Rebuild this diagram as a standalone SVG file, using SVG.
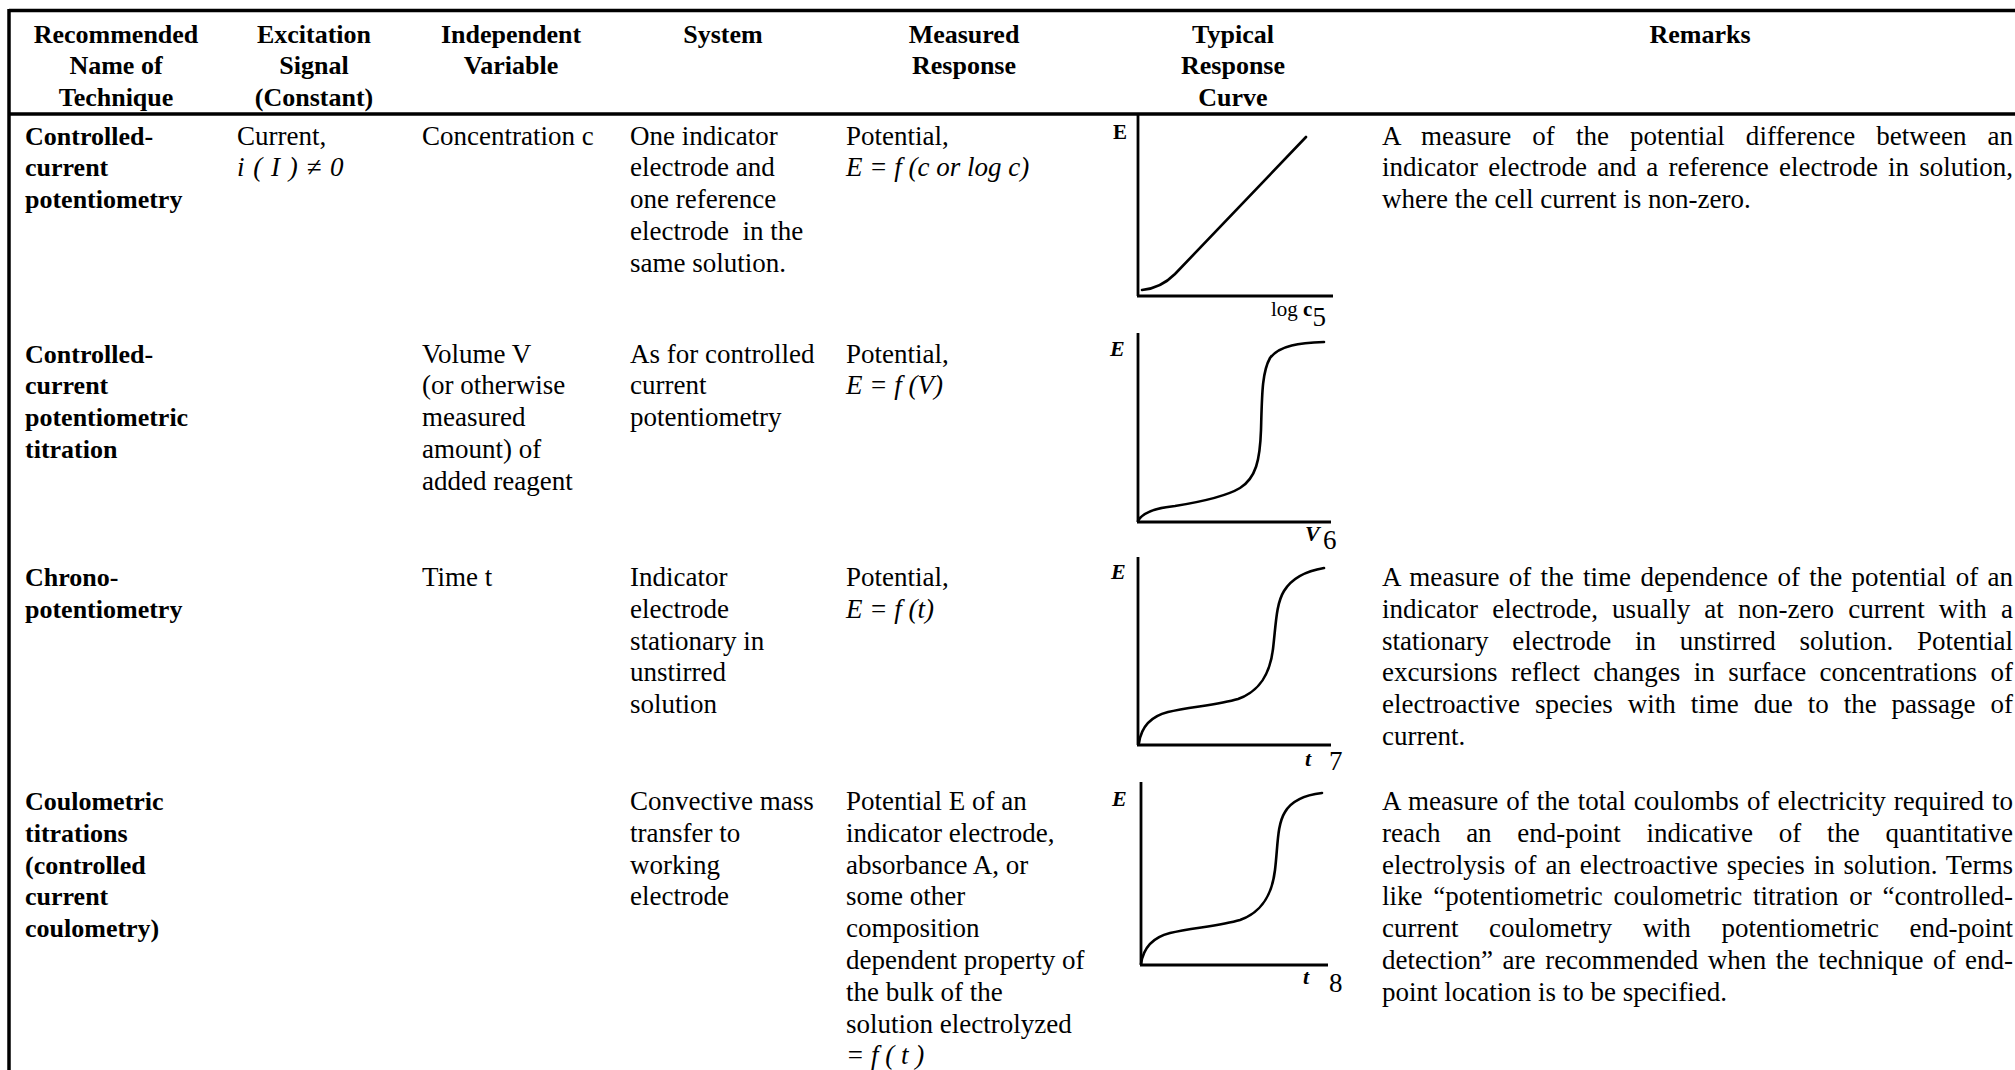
<svg xmlns="http://www.w3.org/2000/svg" width="2015" height="1070" viewBox="0 0 2015 1070">
<style>
text{font-family:"Liberation Serif","Times New Roman",serif;fill:#000}
.h{font-size:26px;font-weight:bold;text-anchor:middle}
.b{font-size:26px;font-weight:bold}
.r{font-size:27px}
.i{font-size:27px;font-style:italic}
.rule{stroke:#000;stroke-width:3.5;fill:none}
.axis{stroke:#000;stroke-width:2.8;fill:none}
.curve{stroke:#000;stroke-width:2.6;fill:none;stroke-linecap:round}
.gl{font-size:21px;font-weight:bold}
.gli{font-size:22px;font-weight:bold;font-style:italic}
.num{font-size:27px}
</style>
<rect x="0" y="0" width="2015" height="1070" fill="#fff"/>
<g id="table-rules">
<line class="rule" x1="9" y1="10.5" x2="2015" y2="10.5"/>
<line class="rule" x1="9" y1="114" x2="2015" y2="114"/>
<line class="rule" x1="9" y1="9" x2="9" y2="1070"/>
</g>
<g id="header">
<text class="h"><tspan x="116" y="42.5">Recommended</tspan><tspan x="116" y="74">Name of</tspan><tspan x="116" y="105.5">Technique</tspan></text>
<text class="h"><tspan x="314" y="42.5">Excitation</tspan><tspan x="314" y="74">Signal</tspan><tspan x="314" y="105.5">(Constant)</tspan></text>
<text class="h"><tspan x="511" y="42.5">Independent</tspan><tspan x="511" y="74">Variable</tspan></text>
<text class="h" x="723" y="42.5">System</text>
<text class="h"><tspan x="964" y="42.5">Measured</tspan><tspan x="964" y="74">Response</tspan></text>
<text class="h"><tspan x="1233" y="42.5">Typical</tspan><tspan x="1233" y="74">Response</tspan><tspan x="1233" y="105.5">Curve</tspan></text>
<text class="h" x="1700" y="42.5">Remarks</text>
</g>
<g id="row1">
<text class="b"><tspan x="25" y="144.5">Controlled-</tspan><tspan x="25" y="176.3">current</tspan><tspan x="25" y="208.1">potentiometry</tspan></text>
<text class="r" x="237" y="144.5">Current,</text>
<text class="i" x="237" y="176.3" word-spacing="2">i ( I ) ≠ 0</text>
<text class="r" x="422" y="144.5">Concentration c</text>
<text class="r" xml:space="preserve"><tspan x="630" y="144.5">One indicator</tspan><tspan x="630" y="176.3">electrode and</tspan><tspan x="630" y="208.1">one reference</tspan><tspan x="630" y="239.9">electrode  in the</tspan><tspan x="630" y="271.7">same solution.</tspan></text>
<text class="r" x="846" y="144.5">Potential,</text>
<text class="i" x="846" y="176.3">E = f (c or log c)</text>
<text class="r" x="1382" y="144.5" word-spacing="14.2" textLength="631" lengthAdjust="spacing">A measure of the potential difference between an</text>
<text class="r" x="1382" y="176.3" word-spacing="3.4" textLength="631" lengthAdjust="spacing">indicator electrode and a reference electrode in solution,</text>
<text class="r" x="1382" y="208.1">where the cell current is non-zero.</text>
<g id="graph1">
<line class="axis" x1="1138" y1="114" x2="1138" y2="296"/>
<line class="axis" x1="1137" y1="296" x2="1333" y2="296"/>
<path class="curve" d="M1142,290 C1153,289 1165,284 1175,274 L1306,137"/>
<text class="gl" x="1113" y="139">E</text>
<text style="font-size:21px" x="1271" y="316">log <tspan font-weight="bold">c</tspan><tspan style="font-size:27px" y="326">5</tspan></text>
</g>
</g>
<g id="row2">
<text class="b"><tspan x="25" y="362.5">Controlled-</tspan><tspan x="25" y="394.3">current</tspan><tspan x="25" y="426.1">potentiometric</tspan><tspan x="25" y="457.9">titration</tspan></text>
<text class="r"><tspan x="422" y="362.5">Volume V</tspan><tspan x="422" y="394.3">(or otherwise</tspan><tspan x="422" y="426.1">measured</tspan><tspan x="422" y="457.9">amount) of</tspan><tspan x="422" y="489.7">added reagent</tspan></text>
<text class="r"><tspan x="630" y="362.5">As for controlled</tspan><tspan x="630" y="394.3">current</tspan><tspan x="630" y="426.1">potentiometry</tspan></text>
<text class="r" x="846" y="362.5">Potential,</text>
<text class="i" x="846" y="394.3">E = f (V)</text>
<g id="graph2">
<line class="axis" x1="1138" y1="333" x2="1138" y2="522"/>
<line class="axis" x1="1137" y1="522" x2="1331" y2="522"/>
<path class="curve" d="M1138,521 C1142,513 1155,508 1175,506 C1200,502 1225,497 1240,488 C1256,478 1260,460 1261,430 C1262,395 1262,372 1270,358 C1280,345 1300,343 1324,342"/>
<text class="gli" x="1110" y="356">E</text>
<text class="gli" x="1305" y="541">V</text>
<text class="num" x="1323" y="549">6</text>
</g>
</g>
<g id="row3">
<text class="b"><tspan x="25" y="586">Chrono-</tspan><tspan x="25" y="617.8">potentiometry</tspan></text>
<text class="r" x="422" y="586">Time t</text>
<text class="r"><tspan x="630" y="586">Indicator</tspan><tspan x="630" y="617.8">electrode</tspan><tspan x="630" y="649.6">stationary in</tspan><tspan x="630" y="681.4">unstirred</tspan><tspan x="630" y="713.2">solution</tspan></text>
<text class="r" x="846" y="586">Potential,</text>
<text class="i" x="846" y="617.8">E = f (t)</text>
<text class="r" x="1382" y="586" word-spacing="2.5" textLength="631" lengthAdjust="spacing">A measure of the time dependence of the potential of an</text>
<text class="r" x="1382" y="617.8" word-spacing="7.4" textLength="631" lengthAdjust="spacing">indicator electrode, usually at non-zero current with a</text>
<text class="r" x="1382" y="649.6" word-spacing="17" textLength="631" lengthAdjust="spacing">stationary electrode in unstirred solution. Potential</text>
<text class="r" x="1382" y="681.4" word-spacing="6.7" textLength="631" lengthAdjust="spacing">excursions reflect changes in surface concentrations of</text>
<text class="r" x="1382" y="713.2" word-spacing="8.2" textLength="631" lengthAdjust="spacing">electroactive species with time due to the passage of</text>
<text class="r" x="1382" y="745">current.</text>
<g id="graph3">
<line class="axis" x1="1138" y1="557" x2="1138" y2="745"/>
<line class="axis" x1="1137" y1="745" x2="1331" y2="745"/>
<path class="curve" d="M1139,743 C1141,729 1148,717 1168,712 C1188,707 1218,705 1238,699 C1260,691 1270,674 1273,649 C1276,624 1276,604 1284,591 C1292,578 1306,571 1324,568"/>
<text class="gli" x="1111" y="579">E</text>
<text class="gli" x="1305" y="766">t</text>
<text class="num" x="1329" y="770">7</text>
</g>
</g>
<g id="row4">
<text class="b"><tspan x="25" y="810">Coulometric</tspan><tspan x="25" y="841.8">titrations</tspan><tspan x="25" y="873.6">(controlled</tspan><tspan x="25" y="905.4">current</tspan><tspan x="25" y="937.2">coulometry)</tspan></text>
<text class="r"><tspan x="630" y="810">Convective mass</tspan><tspan x="630" y="841.8">transfer to</tspan><tspan x="630" y="873.6">working</tspan><tspan x="630" y="905.4">electrode</tspan></text>
<text class="r"><tspan x="846" y="810">Potential E of an</tspan><tspan x="846" y="841.8">indicator electrode,</tspan><tspan x="846" y="873.6">absorbance A, or</tspan><tspan x="846" y="905.4">some other</tspan><tspan x="846" y="937.2">composition</tspan><tspan x="846" y="969">dependent property of</tspan><tspan x="846" y="1000.8">the bulk of the</tspan><tspan x="846" y="1032.6">solution electrolyzed</tspan></text>
<text class="i" x="846" y="1064.4">= f ( t )</text>
<text class="r" x="1382" y="810" word-spacing="1.2" textLength="631" lengthAdjust="spacing">A measure of the total coulombs of electricity required to</text>
<text class="r" x="1382" y="841.8" word-spacing="19" textLength="631" lengthAdjust="spacing">reach an end-point indicative of the quantitative</text>
<text class="r" x="1382" y="873.6" word-spacing="2" textLength="631" lengthAdjust="spacing">electrolysis of an electroactive species in solution. Terms</text>
<text class="r" x="1382" y="905.4" word-spacing="4" textLength="631" lengthAdjust="spacing">like “potentiometric coulometric titration or “controlled-</text>
<text class="r" x="1382" y="937.2" word-spacing="23.9" textLength="631" lengthAdjust="spacing">current coulometry with potentiometric end-point</text>
<text class="r" x="1382" y="969" word-spacing="2.8" textLength="631" lengthAdjust="spacing">detection” are recommended when the technique of end-</text>
<text class="r" x="1382" y="1000.8">point location is to be specified.</text>
<g id="graph4">
<line class="axis" x1="1141" y1="782" x2="1141" y2="965"/>
<line class="axis" x1="1140" y1="965" x2="1328" y2="965"/>
<path class="curve" d="M1141,964 C1143,950 1150,938 1170,933 C1190,928 1220,926 1240,920 C1262,912 1272,895 1275,870 C1278,845 1277,825 1285,812 C1292,800 1305,795 1322,793"/>
<text class="gli" x="1112" y="806">E</text>
<text class="gli" x="1303" y="984">t</text>
<text class="num" x="1329" y="992">8</text>
</g>
</g>
</svg>
